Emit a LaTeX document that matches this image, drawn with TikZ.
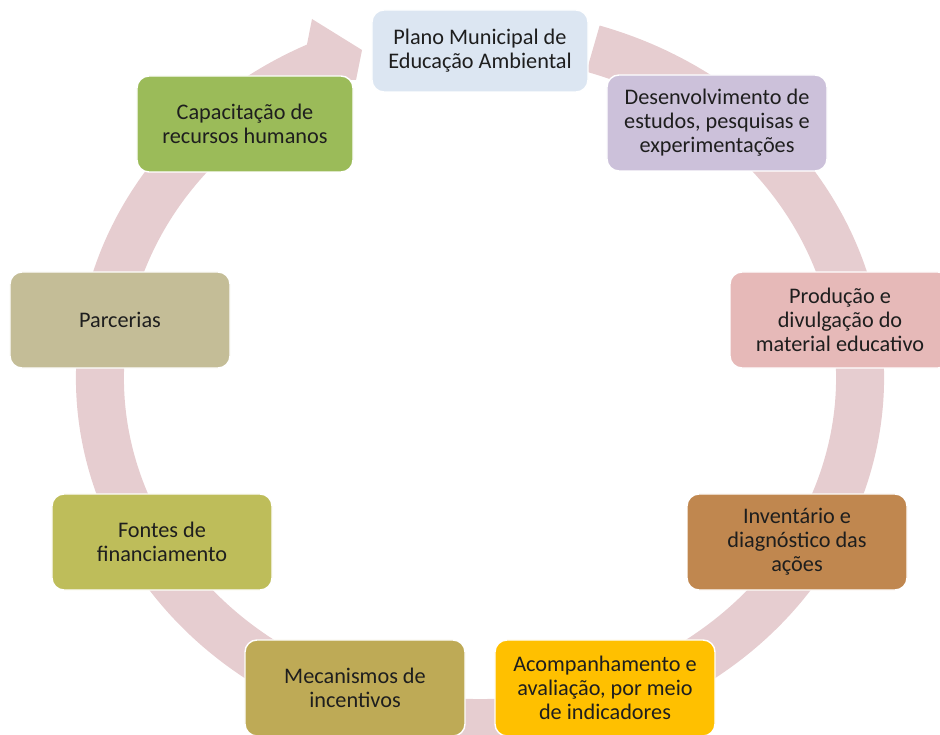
\documentclass[tikz,border=0pt]{standalone}
\usepackage{fontspec}
\setmainfont{Carlito}
\usepackage{tikz}
\definecolor{corAnel}{HTML}{E6CDD0}
\definecolor{corTexto}{HTML}{1E1E1E}
\definecolor{corPlano}{HTML}{DCE6F2}
\definecolor{corEstudos}{HTML}{CCC1DA}
\definecolor{corMaterial}{HTML}{E6B9B8}
\definecolor{corInventario}{HTML}{C0874F}
\definecolor{corAvaliacao}{HTML}{FFC000}
\definecolor{corIncentivos}{HTML}{BEAA56}
\definecolor{corFontes}{HTML}{BEBD5A}
\definecolor{corParcerias}{HTML}{C4BD97}
\definecolor{corCapacitacao}{HTML}{9BBB59}
\tikzset{
  etapa/.style={
    rectangle,
    rounded corners=0.36cm,
    draw=white,
    line width=1.2pt,
    minimum width=6.6cm,
    minimum height=2.88cm,
    inner sep=0pt,
    align=center,
    text=corTexto,
    font=\fontsize{19}{20.5}\selectfont
  },
  faixa/.style={
    draw=corAnel,
    line width=1.44cm
  }
}

\begin{document}
\begin{tikzpicture}[x=0.03cm,y=-0.03cm]
  \useasboundingbox
    (0,0)
    rectangle
    (940,735);
  \coordinate
    (centro)
    at (480,378);
  \draw[faixa]
    (centro)
    ++(-72.7:380 and 345)
    arc
    [start angle=-72.7,end angle=245.4,x radius=380,y radius=345];
  \fill[corAnel]
    (312,19)
    -- (362,50)
    -- (356,80)
    -- (300,80)
    -- cycle;
  \node[etapa,fill=corPlano,minimum width=6.48cm,minimum height=2.46cm]
    (plano)
    at (480,51)
    {Plano Municipal de\\Educação Ambiental};
  \node[etapa,fill=corEstudos]
    (estudos)
    at (717,123)
    {Desenvolvimento de\\estudos, pesquisas e\\experimentações};
  \node[etapa,fill=corMaterial]
    (material)
    at (840,320)
    {Produção e\\divulgação do\\material educativo};
  \node[etapa,fill=corInventario]
    (inventario)
    at (797,542)
    {Inventário e\\diagnóstico das\\ações};
  \node[etapa,fill=corAvaliacao]
    (avaliacao)
    at (605,688)
    {Acompanhamento e\\avaliação, por meio\\de indicadores};
  \node[etapa,fill=corIncentivos]
    (incentivos)
    at (355,688)
    {Mecanismos de\\incentivos};
  \node[etapa,fill=corFontes]
    (fontes)
    at (162,542)
    {Fontes de\\financiamento};
  \node[etapa,fill=corParcerias]
    (parcerias)
    at (120,320)
    {Parcerias};
  \node[etapa,fill=corCapacitacao,minimum width=6.48cm]
    (capacitacao)
    at (245,124)
    {Capacitação de\\recursos humanos};
\end{tikzpicture}
\end{document}
